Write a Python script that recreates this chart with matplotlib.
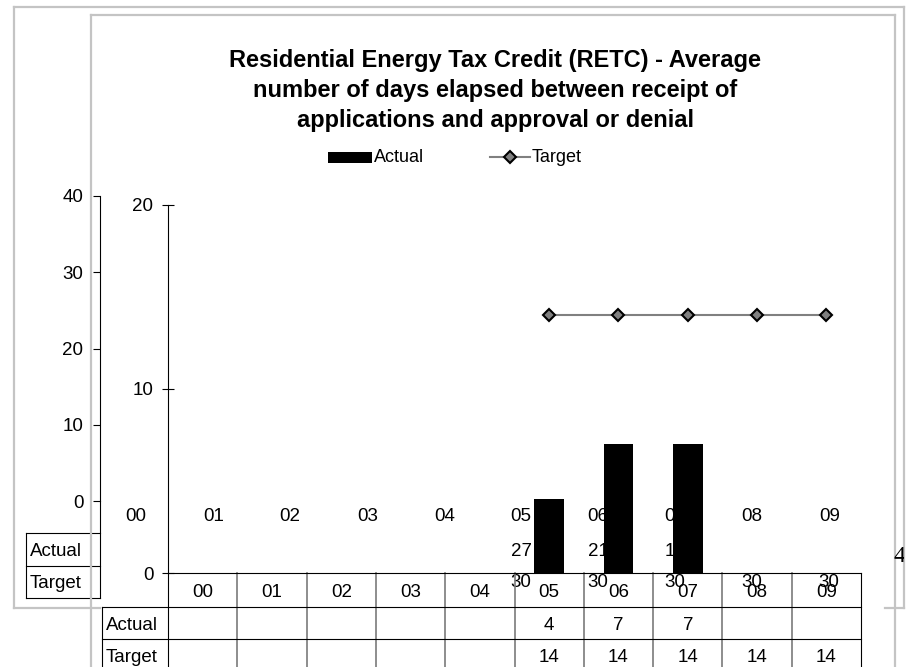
import matplotlib.pyplot as plt
import matplotlib.transforms as mtransforms
from matplotlib.lines import Line2D
from matplotlib.patches import Rectangle

# fiscal years shown in the data table
years = ['00', '01', '02', '03', '04', '05', '06', '07', '08', '09']
actual = [None, None, None, None, None, 4, 7, 7, None, None]
target = [None, None, None, None, None, 14, 14, 14, 14, 14]
# values of the older chart that shows through underneath
old_actual = [None, None, None, None, None, 27, 21, 16, None, None]
old_target = [None, None, None, None, None, 30, 30, 30, 30, 30]

plt.rcParams['font.family'] = ['Liberation Sans', 'DejaVu Sans']

W, H = 909, 667
fig = plt.figure(figsize=(W / 100, H / 100), dpi=100)


def fx(p):
    return p / W


def fy(p):
    return 1 - p / H


def hline(x0, x1, y, color='black', lw=0.8):
    fig.add_artist(Line2D([fx(x0), fx(x1)], [fy(y), fy(y)], color=color, lw=lw))


def vline(x, y0, y1, color='black', lw=0.8):
    fig.add_artist(Line2D([fx(x), fx(x)], [fy(y0), fy(y1)], color=color, lw=lw))


gray_box = '#c4c4c4'
fs = 13.5

# ---- old chart underneath ----
hline(14, 904, 7, gray_box, 1.6)
vline(14, 7, 608, gray_box, 1.6)
vline(904, 7, 608, gray_box, 1.6)
hline(14, 100, 608, gray_box, 1.6)
hline(885, 904, 608, gray_box, 1.6)

ax_bg = fig.add_axes([fx(100), fy(501), (870 - 100) / W, (501 - 196) / H])
ax_bg.set_facecolor('none')
ax_bg.set_xlim(-0.47, 9.53)
ax_bg.set_ylim(0, 40)
ax_bg.set_yticks([0, 10, 20, 30, 40])
ax_bg.set_xticks([])
ax_bg.tick_params(axis='y', direction='out', length=5, width=0.8, pad=7, labelsize=fs)
for s in ['top', 'right', 'bottom']:
    ax_bg.spines[s].set_visible(False)
ax_bg.spines['left'].set_linewidth(0.8)
vline(100, 501, 598)


def bg_y(p):
    return (501 - p) / (501 - 196)


bg_tr = mtransforms.blended_transform_factory(ax_bg.transData, ax_bg.transAxes)
for i, lab in enumerate(years):
    ax_bg.text(i, bg_y(521), lab, ha='center', va='baseline', fontsize=fs,
               transform=bg_tr, clip_on=False)
for i, v in enumerate(old_actual):
    if v is not None:
        ax_bg.text(i, bg_y(556), str(v), ha='center', va='baseline', fontsize=fs,
                   transform=bg_tr, clip_on=False)
for i, v in enumerate(old_target):
    if v is not None:
        ax_bg.text(i, bg_y(587), str(v), ha='center', va='baseline', fontsize=fs,
                   transform=bg_tr, clip_on=False)

hline(26, 100, 533)
hline(26, 100, 566)
hline(26, 100, 598)
vline(26, 533, 598)
fig.text(fx(30), fy(556), 'Actual', fontsize=fs, va='baseline')
fig.text(fx(30), fy(588), 'Target', fontsize=fs, va='baseline')

t40 = fig.text(fx(893), fy(562), '40', fontsize=17, va='baseline',
               family=['Liberation Serif', 'DejaVu Serif'])
t40.set_clip_box(mtransforms.TransformedBbox(
    mtransforms.Bbox.from_extents(0, 0, fx(904), 1), fig.transFigure))
t40.set_clip_on(True)

# ---- current chart ----
vline(91, 15, 667, gray_box, 1.6)
vline(895, 15, 667, gray_box, 1.6)
hline(91, 895, 15, gray_box, 1.6)

title = ['Residential Energy Tax Credit (RETC) - Average',
         'number of days elapsed between receipt of',
         'applications and approval or denial']
for k, line in enumerate(title):
    fig.text(fx(495), fy(60 + 30.5 * k), line, ha='center', va='center',
             fontsize=17, fontweight='bold')

# legend
fig.add_artist(Rectangle((fx(328), fy(163)), fx(372) - fx(328), fy(152) - fy(163),
                         color='black', lw=0))
fig.text(fx(374), fy(157), 'Actual', va='center', fontsize=13)
fig.add_artist(Line2D([fx(490), fx(530)], [fy(157), fy(157)], color='#808080', lw=1.5))
fig.add_artist(Line2D([fx(510)], [fy(157)], marker='D', ms=6.5, mfc='#808080',
                      mec='black', mew=1.5, lw=0))
fig.text(fx(532), fy(157), 'Target', va='center', fontsize=13)

ax = fig.add_axes([fx(168), fy(573), (861 - 168) / W, (573 - 205) / H])
ax.set_facecolor('none')
ax.set_xlim(-0.5, 9.5)
ax.set_ylim(0, 20)
ax.set_yticks([0, 10, 20])
ax.set_xticks([])
ax.tick_params(axis='y', direction='inout', length=8, width=0.8, pad=6.5, labelsize=fs)
for s in ['top', 'right']:
    ax.spines[s].set_visible(False)
ax.spines['left'].set_linewidth(0.8)
ax.spines['bottom'].set_linewidth(0.8)

xa = [i for i, v in enumerate(actual) if v is not None]
ya = [v for v in actual if v is not None]
ax.bar(xa, ya, width=0.43, color='black')
xt = [i for i, v in enumerate(target) if v is not None]
yt = [v for v in target if v is not None]
ax.plot(xt, yt, color='#808080', lw=1.5, marker='D', ms=6.5, mfc='#808080',
        mec='black', mew=1.5, clip_on=False)

# data table under the plot
def fg_y(p):
    return (573 - p) / (573 - 205)


fg_tr = mtransforms.blended_transform_factory(ax.transData, ax.transAxes)
for k in range(1, len(years)):
    ax.plot([k - 0.5, k - 0.5], [0, fg_y(667)], color='#7a7a7a', lw=1.2,
            transform=fg_tr, clip_on=False)
vline(861, 573, 667)
vline(168, 573, 667)
vline(102, 607, 667)
hline(102, 861, 607)
hline(102, 861, 639)
for i, lab in enumerate(years):
    ax.text(i, fg_y(597), lab, ha='center', va='baseline', fontsize=fs,
            transform=fg_tr, clip_on=False)
for i, v in enumerate(actual):
    if v is not None:
        ax.text(i, fg_y(630), str(v), ha='center', va='baseline', fontsize=fs,
                transform=fg_tr, clip_on=False)
for i, v in enumerate(target):
    if v is not None:
        ax.text(i, fg_y(662), str(v), ha='center', va='baseline', fontsize=fs,
                transform=fg_tr, clip_on=False)
fig.text(fx(106), fy(630), 'Actual', fontsize=fs, va='baseline')
fig.text(fx(106), fy(662), 'Target', fontsize=fs, va='baseline')

fig.savefig('out.png', dpi=100)
